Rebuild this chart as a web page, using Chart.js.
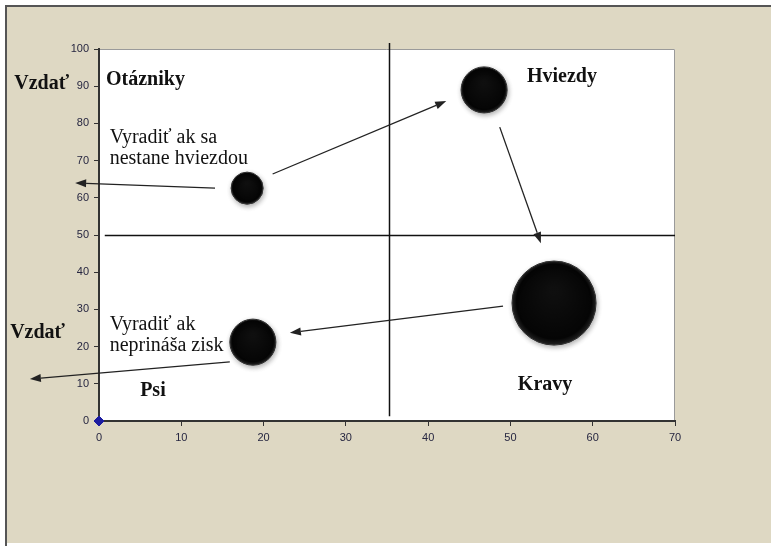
<!DOCTYPE html>
<html>
<head>
<meta charset="utf-8">
<script src="https://cdn.jsdelivr.net/npm/chart.js@4/dist/chart.umd.min.js"></script>
<style>
  body { margin: 0; background: #fff; }
  canvas { display: block; }
</style>
</head>
<body>
<canvas id="bcgChart" width="771" height="546"></canvas>
<script>
// Data: BCG matica (x = podiel na trhu, y = rast trhu, r = velkost bubliny)
const bubbleNames = ['Otázniky', 'Hviezdy', 'Kravy', 'Psi'];
const bubbleX = [18.0, 46.8, 55.3, 18.7];
const bubbleY = [62.6, 89.0, 31.7, 21.2];
const bubbleR = [16, 23, 42, 23];

const xTicks = [0, 10, 20, 30, 40, 50, 60, 70];
const yTicks = [0, 10, 20, 30, 40, 50, 60, 70, 80, 90, 100];

// deliace ciary kvadrantov
const splitX = 35.2;
const splitY = 50;

// sipky [x1, y1, x2, y2] v jednotkach osi
const arrows = [
  [14.1, 62.6, -2.9, 64.0],
  [21.1, 66.4, 42.2, 86.0],
  [48.7, 79.0, 53.7, 47.8],
  [49.1, 30.9, 23.2, 23.7],
  [15.9, 15.9, -8.4, 11.3]
];

// popisky [text, x, y, tucne]
const labels = [
  ['Vzdať', -10.3, 89.2, true],
  ['Otázniky', 0.85, 90.3, true],
  ['Hviezdy', 52.0, 91.1, true],
  ['Kravy', 50.9, 8.3, true],
  ['Psi', 5.0, 6.7, true],
  ['Vzdať', -10.8, 22.3, true],
  ['Vyradiť ak sa', 1.3, 74.8, false],
  ['nestane hviezdou', 1.3, 69.2, false],
  ['Vyradiť ak', 1.3, 24.5, false],
  ['neprináša zisk', 1.3, 18.9, false]
];

const bubbleData = bubbleX.map((x, i) => ({ x: x, y: bubbleY[i], r: bubbleR[i] }));

// pozadie, ramik a biela plocha grafu
const framePlugin = {
  id: 'frame',
  beforeDraw(chart) {
    const ctx = chart.ctx;
    const a = chart.chartArea;
    ctx.save();
    ctx.fillStyle = '#ffffff';
    ctx.fillRect(0, 0, chart.width, chart.height);
    ctx.fillStyle = '#ded8c3';
    ctx.fillRect(5, 5, chart.width - 5, 538);
    ctx.fillStyle = '#555555';
    ctx.fillRect(5, 5, chart.width - 5, 2);
    ctx.fillRect(5, 5, 2, chart.height - 5);
    ctx.fillStyle = '#ffffff';
    ctx.fillRect(a.left, a.top, a.right - a.left, a.bottom - a.top);
    ctx.strokeStyle = '#9a9a9a';
    ctx.lineWidth = 1;
    ctx.beginPath();
    ctx.moveTo(a.left, a.top + 0.5);
    ctx.lineTo(a.right - 0.5, a.top + 0.5);
    ctx.lineTo(a.right - 0.5, a.bottom);
    ctx.stroke();
    ctx.restore();
  },
  beforeDatasetsDraw(chart) {
    const ctx = chart.ctx;
    const xs = chart.scales.x, ys = chart.scales.y;
    ctx.save();
    ctx.strokeStyle = '#111';
    ctx.lineWidth = 1.5;
    ctx.beginPath();
    const vx = Math.round(xs.getPixelForValue(splitX)) + 0.5;
    ctx.moveTo(vx, ys.getPixelForValue(101.6));
    ctx.lineTo(vx, ys.getPixelForValue(1.3));
    const hy = Math.round(ys.getPixelForValue(splitY)) + 0.5;
    ctx.moveTo(xs.getPixelForValue(0.7), hy);
    ctx.lineTo(xs.getPixelForValue(70), hy);
    ctx.stroke();
    ctx.restore();
  },
  beforeDatasetDraw(chart, args) {
    if (args.index === 0) {
      const ctx = chart.ctx;
      ctx.save();
      ctx.shadowColor = 'rgba(0,0,0,0.3)';
      ctx.shadowBlur = 5;
      ctx.shadowOffsetX = 1;
      ctx.shadowOffsetY = 2;
    }
  },
  afterDatasetDraw(chart, args) {
    if (args.index === 0) {
      chart.ctx.restore();
      // jemny lesk na bublinach
      const ctx = chart.ctx;
      args.meta.data.forEach(el => {
        const r = el.options.radius;
        const g = ctx.createRadialGradient(el.x, el.y - r * 0.3, r * 0.1, el.x, el.y, r);
        g.addColorStop(0, 'rgba(255,255,255,0.04)');
        g.addColorStop(0.88, 'rgba(255,255,255,0.0)');
        g.addColorStop(1, 'rgba(255,255,255,0.12)');
        ctx.save();
        ctx.fillStyle = g;
        ctx.beginPath();
        ctx.arc(el.x, el.y, r, 0, Math.PI * 2);
        ctx.fill();
        ctx.restore();
      });
    }
  },
  afterDraw(chart) {
    const ctx = chart.ctx;
    const xs = chart.scales.x, ys = chart.scales.y;
    ctx.save();
    // sipky
    ctx.strokeStyle = '#222';
    ctx.fillStyle = '#222';
    ctx.lineWidth = 1.3;
    arrows.forEach(a => {
      const x1 = xs.getPixelForValue(a[0]), y1 = ys.getPixelForValue(a[1]);
      const x2 = xs.getPixelForValue(a[2]), y2 = ys.getPixelForValue(a[3]);
      const ang = Math.atan2(y2 - y1, x2 - x1);
      const len = 11, w = 4;
      const bx = x2 - len * Math.cos(ang), by = y2 - len * Math.sin(ang);
      ctx.beginPath();
      ctx.moveTo(x1, y1);
      ctx.lineTo(bx, by);
      ctx.stroke();
      ctx.beginPath();
      ctx.moveTo(x2, y2);
      ctx.lineTo(bx + w * Math.sin(ang), by - w * Math.cos(ang));
      ctx.lineTo(bx - w * Math.sin(ang), by + w * Math.cos(ang));
      ctx.closePath();
      ctx.fill();
    });
    // texty
    ctx.fillStyle = '#111';
    ctx.textBaseline = 'alphabetic';
    ctx.textAlign = 'left';
    labels.forEach(l => {
      ctx.font = (l[3] ? 'bold ' : '') + '20px "Liberation Serif", "Times New Roman", serif';
      ctx.fillText(l[0], xs.getPixelForValue(l[1]), ys.getPixelForValue(l[2]));
    });
    ctx.restore();
  }
};

const tickFont = { family: '"Liberation Sans", Arial, sans-serif', size: 11 };

new Chart(document.getElementById('bcgChart'), {
  type: 'bubble',
  data: {
    datasets: [
      {
        label: 'BCG',
        data: bubbleData,
        backgroundColor: '#050505',
        borderColor: '#222',
        borderWidth: 1
      },
      {
        type: 'scatter',
        label: 'počiatok',
        data: [{ x: 0, y: 0 }],
        pointStyle: 'rectRot',
        pointRadius: 5,
        backgroundColor: '#1c1ca0',
        borderColor: '#1c1ca0',
        clip: false
      }
    ]
  },
  options: {
    responsive: false,
    animation: false,
    events: [],
    layout: { padding: { left: 0, right: 96, top: 49, bottom: 100 } },
    plugins: {
      legend: { display: false },
      tooltip: { enabled: false }
    },
    scales: {
      x: {
        type: 'linear',
        min: 0,
        max: 70,
        afterBuildTicks: s => { s.ticks = xTicks.map(v => ({ value: v })); },
        afterFit: s => { s.height = 25; },
        ticks: { font: tickFont, color: '#262640', padding: 5 },
        grid: { drawOnChartArea: false, drawTicks: true, tickLength: 5, color: '#333' },
        border: { color: '#333', width: 2 }
      },
      y: {
        type: 'linear',
        min: 0,
        max: 100,
        afterBuildTicks: s => { s.ticks = yTicks.map(v => ({ value: v })); },
        afterFit: s => { s.width = 99; },
        ticks: { font: tickFont, color: '#262640', padding: 5 },
        grid: { drawOnChartArea: false, drawTicks: true, tickLength: 5, color: '#333' },
        border: { color: '#333', width: 2 }
      }
    }
  },
  plugins: [framePlugin]
});
</script>
</body>
</html>
